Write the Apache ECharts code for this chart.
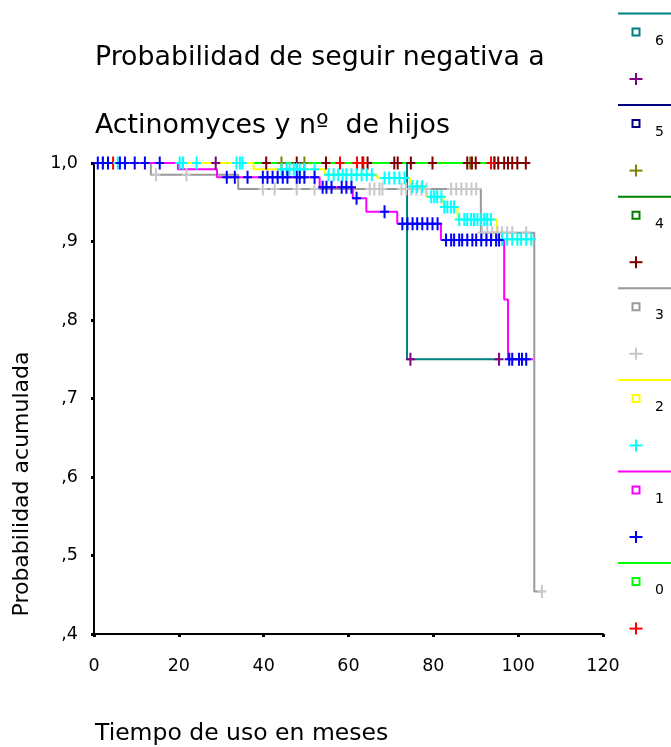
<!DOCTYPE html>
<html>
<head>
<meta charset="utf-8">
<script src="https://cdn.jsdelivr.net/npm/echarts@6/dist/echarts.min.js"></script>
<style>html,body{margin:0;padding:0;background:#fff}#c{width:671px;height:747px}</style>
</head>
<body>
<div id="c"></div>
<script>
// ---- data ----
const groupLabels = ['0', '1', '2', '3', '4', '5', '6'];
const lineColors = ['#00ff00', '#ff00ff', '#ffff00', '#999999', '#008000', '#000080', '#008080'];
const censorColors = ['#ff0000', '#0000ff', '#00ffff', '#c8c8c8', '#800000', '#808000', '#800080'];

const xTicks = [0, 20, 40, 60, 80, 100, 120];
const yTickLabels = [',4', ',5', ',6', ',7', ',8', ',9', '1,0'];

const g0Times = [0];
const g0Surv = [1];
const g0End = 94;
const g0Cens = [4.5, 58, 62, 63.5, 93.6];

const g1Times = [0, 19.8, 29, 53.2, 61, 64.2, 71.5, 81.8, 96.7, 97.6];
const g1Surv = [1, 0.992, 0.982, 0.969, 0.955, 0.938, 0.9225, 0.902, 0.826, 0.75];
const g1End = 103.5;
const g1Cens = [0.9, 2.1, 3.3, 6.1, 7.3, 9.6, 12, 15.5, 31.3, 33.2, 36.2, 39.8, 40.9, 42.1, 43.3, 44.5, 45.6, 47.8, 48.5, 49.6, 52,
  53.9, 54.8, 56, 58.4, 59.5, 60.7, 61.9, 68.5, 72.7, 73.9, 75.1, 76.2, 77.4, 78.6, 79.8, 81,
  83, 84.2, 84.9, 86.1, 86.8, 88, 89.2, 90.1, 91.3, 92.5, 93.6, 94.8, 95.5, 97.9, 98.6, 100.2, 100.9, 101.9];

const g2Times = [0, 37.6, 54.4, 66.8, 74.5, 78.3, 82.4, 85.7, 95];
const g2Surv = [1, 0.992, 0.985, 0.981, 0.970, 0.957, 0.944, 0.928, 0.903];
const g2End = 103.5;
const g2Cens = [5.6, 20.2, 21, 24.2, 33.6, 34.4, 35, 44.2, 45.4, 46.1, 47.1, 47.8, 48.5, 49.6, 52,
  55.3, 56.5, 57.6, 58.6, 59.5, 60.7, 61.9, 63.1, 64.3, 65.5, 68.5, 69.6, 70.8, 72, 73.2,
  75.1, 76.2, 77.4, 79.5, 80.2, 80.9, 81.9, 82.6, 83.3, 84.2, 84.9,
  86.1, 87.3, 88, 88.9, 89.6, 90.4, 91.3, 92, 92.7, 93.6, 96.2, 97.4, 98.6, 99.8, 100.7, 101.9, 103.1];

const g3Times = [0, 13.4, 34, 91.2, 103.8];
const g3Surv = [1, 0.985, 0.967, 0.911, 0.454];
const g3End = 105.6;
const g3Cens = [2, 14.6, 21.8, 39.8, 42.6, 47.8, 52, 65, 66.1, 67.3, 68, 72.5, 73.6, 74.8, 76, 77.2, 78.4,
  84.2, 85.4, 86.6, 87.8, 89, 90.1, 91.5, 92.7, 93.9, 95.1, 96.2, 97.4, 98.6, 101.9, 105.6];

const g4Times = [0];
const g4Surv = [1];
const g4End = 102;
const g4Cens = [40.6, 47.8, 54.7, 63.3, 64.5, 70.8, 71.6, 74.7, 79.8, 88, 89.1, 90, 94.4, 95.3, 96.7, 97.6, 98.6, 99.8, 101.8];

const g5Times = [0];
const g5Surv = [1];
const g5End = 94.4;
const g5Cens = [44.2, 49.6, 88.7, 94.4];

const g6Times = [0, 73.8];
const g6Surv = [1, 0.75];
const g6End = 95.5;
const g6Cens = [28.7, 74.6, 95.5];

// ---- build ----
const allTimes = [g0Times, g1Times, g2Times, g3Times, g4Times, g5Times, g6Times];
const allSurv = [g0Surv, g1Surv, g2Surv, g3Surv, g4Surv, g5Surv, g6Surv];
const allEnd = [g0End, g1End, g2End, g3End, g4End, g5End, g6End];
const allCens = [g0Cens, g1Cens, g2Cens, g3Cens, g4Cens, g5Cens, g6Cens];

function survAt(times, surv, t) {
  let s = surv[0];
  for (let i = 0; i < times.length; i++) { if (times[i] <= t) s = surv[i]; }
  return s;
}

const PLUS = 'path://M3.5,0H5.5V5.5H9V7.5H5.5V13H3.5V7.5H0V5.5H3.5Z';
const FONT = 'DejaVu Sans';

const series = [];
const drawOrder = [3, 6, 5, 4, 0, 2, 1];
drawOrder.forEach(function (g, k) {
  const data = allTimes[g].map(function (t, i) { return [t, allSurv[g][i]]; });
  data.push([allEnd[g], allSurv[g][allSurv[g].length - 1]]);
  series.push({
    type: 'line', name: groupLabels[g], step: 'end', data: data, showSymbol: false,
    lineStyle: { color: lineColors[g], width: 2 }, z: 2 + k * 0.01, animation: false, silent: true
  });
});
drawOrder.forEach(function (g, k) {
  series.push({
    type: 'scatter', name: groupLabels[g] + ' censurado',
    data: allCens[g].map(function (t) { return [t, survAt(allTimes[g], allSurv[g], t)]; }),
    symbol: PLUS, symbolSize: [9, 13], symbolKeepAspect: false,
    itemStyle: { color: censorColors[g], opacity: 1 }, z: 3 + k * 0.01, animation: false, silent: true
  });
});

// legend (drawn to mimic the reference layout)
const graphic = [
  { type: 'text', left: 95, top: 45, style: { text: 'Probabilidad de seguir negativa a', font: '26.8px "' + FONT + '"', fill: '#000' } },
  { type: 'text', left: 95, top: 113, style: { text: 'Actinomyces y nº  de hijos', font: '26.8px "' + FONT + '"', fill: '#000' } },
  { type: 'text', left: 95, top: 722, style: { text: 'Tiempo de uso en meses', font: '23.5px "' + FONT + '"', fill: '#000' } },
  { type: 'text', x: 22, y: 484, rotation: Math.PI / 2, style: { text: 'Probabilidad acumulada', font: '22px "' + FONT + '"', fill: '#000', align: 'center', verticalAlign: 'middle' } }
];
const legendOrder = [6, 5, 4, 3, 2, 1, 0];
legendOrder.forEach(function (g, i) {
  const ly = 13.5 + 91.6 * i;
  graphic.push({ type: 'line', shape: { x1: 618, y1: ly, x2: 671, y2: ly }, style: { stroke: lineColors[g], lineWidth: 2 } });
  graphic.push({ type: 'rect', shape: { x: 632.5, y: ly + 15, width: 7, height: 7 }, style: { fill: 'none', stroke: lineColors[g], lineWidth: 2 } });
  graphic.push({ type: 'text', x: 655, y: ly + 27.5, style: { text: groupLabels[g], font: '14px "' + FONT + '"', fill: '#000', verticalAlign: 'middle' } });
  graphic.push({ type: 'line', shape: { x1: 636, y1: ly + 59.5, x2: 636, y2: ly + 71.5 }, style: { stroke: censorColors[g], lineWidth: 2 } });
  graphic.push({ type: 'line', shape: { x1: 629.5, y1: ly + 65.5, x2: 642.5, y2: ly + 65.5 }, style: { stroke: censorColors[g], lineWidth: 2 } });
});

const chart = echarts.init(document.getElementById('c'), null, { renderer: 'canvas' });
chart.setOption({
  backgroundColor: '#fff',
  animation: false,
  grid: { left: 94, right: 68, top: 163, bottom: 113, containLabel: false },
  xAxis: {
    type: 'value', min: xTicks[0], max: xTicks[xTicks.length - 1], interval: xTicks[1] - xTicks[0],
    axisLine: { lineStyle: { color: '#000', width: 2 } },
    axisTick: { show: true, length: 3, lineStyle: { color: '#000', width: 3 } },
    splitLine: { show: false },
    axisLabel: { color: '#000', fontSize: 17.5, fontFamily: FONT, margin: 23 }
  },
  yAxis: {
    type: 'value', min: 0.4, max: 1.0, interval: 0.1,
    axisLine: { show: true, lineStyle: { color: '#000', width: 2 } },
    axisTick: { show: true, length: 3, lineStyle: { color: '#000', width: 3 } },
    splitLine: { show: false },
    axisLabel: {
      color: '#000', fontSize: 17.5, fontFamily: FONT, margin: 16,
      formatter: function (v) { return yTickLabels[Math.round((v - 0.4) * 10)]; }
    }
  },
  series: series,
  graphic: graphic
});
</script>
</body>
</html>
